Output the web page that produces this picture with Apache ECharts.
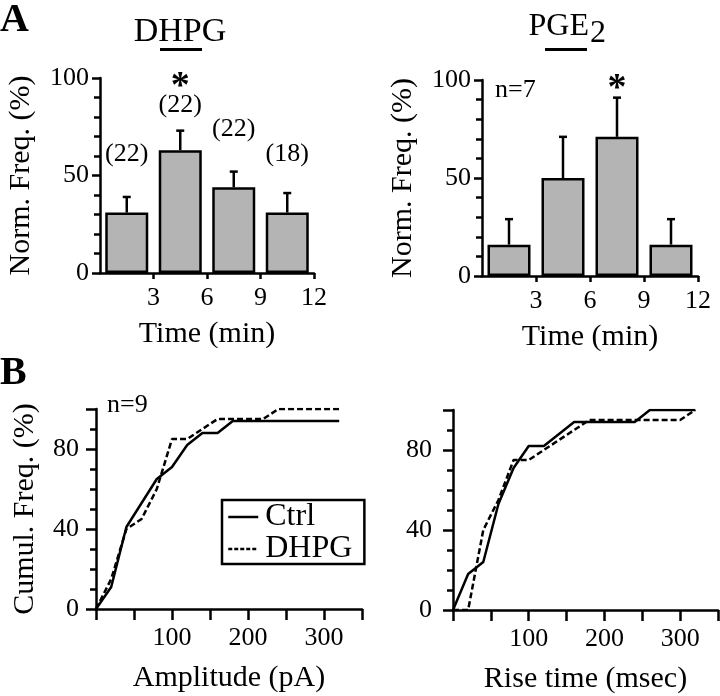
<!DOCTYPE html>
<html><head><meta charset="utf-8">
<script src="https://cdn.jsdelivr.net/npm/echarts@6/dist/echarts.min.js"></script>
<style>html,body{margin:0;padding:0;background:#fff}#c{width:720px;height:696px}</style>
</head><body><div id="c"></div>
<script>
// ---- Panel A data ----
const binCenters = [1.5, 4.5, 7.5, 10.5];      // centre of each 3-min bin
const timeTicks = [3, 6, 9, 12];
const dhpgFreq = [31, 63, 44, 31];            // Norm. Freq. (%)
const dhpgSem = [8, 10, 8, 10];
const dhpgCounts = ['(22)', '(22)', '(22)', '(18)'];
const dhpgCountLevel = [61, 86, 74, 61];      // level at which the (n) label sits
const dhpgStar = [4.5, 100];
const pgeFreq = [16, 50, 71, 16];
const pgeSem = [13, 21, 20, 13];
const pgeStar = [7.5, 100];

// ---- Panel B data ----
const bins = [0, 20, 40, 60, 80, 100, 120, 140, 160, 180, 200, 220, 240, 260, 280, 300, 320];
const ctrlAmp = [0, 11, 41, 53, 65, 71, 82, 88, 88, 94, 94, 94, 94, 94, 94, 94, 94];
const dhpgAmp = [0, 15, 40, 45, 60, 85, 85, 90, 95, 95, 95, 95, 100, 100, 100, 100, 100];
const ctrlRise = [0, 18, 24, 53, 71, 82, 82, 88, 94, 94, 94, 94, 94, 100, 100, 100, 100];
const dhpgRise = [0, 0, 40, 55, 75, 75, 80, 85, 90, 95, 95, 95, 95, 95, 95, 95, 100];
const bTickLabels = [100, 200, 300];
const bYLabels = [0, 40, 80];

const FONT = '"Liberation Serif", "Times New Roman", serif';
const LW = 2.5;
const BLACK = '#000';

const pairs = (xs, ys) => xs.map((x, i) => [x, ys[i]]);

function errRender(params, api) {
  const x = api.value(0), m = api.value(1), s = api.value(2);
  const p0 = api.coord([x, m]);
  const p1 = api.coord([x, m + s]);
  return {
    type: 'group',
    children: [
      {type: 'line', shape: {x1: p0[0], y1: p0[1], x2: p1[0], y2: p1[1]}, style: {stroke: BLACK, lineWidth: LW}},
      {type: 'line', shape: {x1: p1[0] - 4, y1: p1[1], x2: p1[0] + 4, y2: p1[1]}, style: {stroke: BLACK, lineWidth: LW}}
    ]
  };
}
function textRender(params, api) {
  const p = api.coord([api.value(0), api.value(1)]);
  const txt = api.value(2);
  const glyphShift = txt === '*' ? 9 : 0;   // asterisk glyph sits high in its em box
  return {
    type: 'text', x: p[0], y: p[1] + glyphShift,
    style: {text: txt, fill: BLACK, font: api.value(3), align: 'center', verticalAlign: 'middle'}
  };
}

function aY(gi, name) {
  return {
    gridIndex: gi, type: 'value', min: 0, max: 100, interval: 50,
    name: name, nameLocation: 'middle', nameRotate: 90, nameGap: 64,
    nameTextStyle: {fontFamily: FONT, fontSize: 30, color: BLACK},
    axisLine: {show: true, lineStyle: {color: BLACK, width: LW}},
    axisTick: {show: true, length: 8, lineStyle: {color: BLACK, width: LW}},
    minorTick: {show: true, splitNumber: 5, length: 6, lineStyle: {color: BLACK, width: LW}},
    axisLabel: {fontFamily: FONT, fontSize: 26, color: BLACK, margin: 11},
    splitLine: {show: false}
  };
}
function aX(gi) {
  return {
    gridIndex: gi, type: 'value', min: 0, max: 12, interval: 3,
    name: 'Time (min)', nameLocation: 'middle', nameGap: 46,
    nameTextStyle: {fontFamily: FONT, fontSize: 30, color: BLACK},
    axisLine: {show: true, lineStyle: {color: BLACK, width: LW}},
    axisTick: {show: true, length: 6, customValues: timeTicks, lineStyle: {color: BLACK, width: LW}},
    axisLabel: {fontFamily: FONT, fontSize: 26, color: BLACK, margin: 12, customValues: timeTicks},
    splitLine: {show: false}
  };
}
function bX(gi, name) {
  return {
    gridIndex: gi, type: 'value', min: 0, max: 350, interval: 50,
    name: name, nameLocation: 'middle', nameGap: 54,
    nameTextStyle: {fontFamily: FONT, fontSize: 30, color: BLACK},
    axisLine: {show: true, lineStyle: {color: BLACK, width: LW}},
    axisTick: {show: true, length: 11, lineStyle: {color: BLACK, width: LW}},
    axisLabel: {fontFamily: FONT, fontSize: 26, color: BLACK, margin: 16, customValues: bTickLabels},
    splitLine: {show: false}
  };
}
function bY(gi, name, margin) {
  return {
    gridIndex: gi, type: 'value', min: 0, max: 100, interval: 10,
    name: name, nameLocation: 'middle', nameRotate: 90, nameGap: 56,
    nameTextStyle: {fontFamily: FONT, fontSize: 30, color: BLACK},
    axisLine: {show: true, lineStyle: {color: BLACK, width: LW}},
    axisTick: {show: true, length: 6, lineStyle: {color: BLACK, width: LW}},
    axisLabel: {fontFamily: FONT, fontSize: 26, color: BLACK, margin: margin, customValues: bYLabels},
    splitLine: {show: false}
  };
}
function bYLong(gi) {
  return {
    gridIndex: gi, type: 'value', min: 0, max: 100, interval: 10, position: 'left',
    axisLine: {show: false},
    axisTick: {show: true, length: 10, customValues: [0, 40, 80, 100], lineStyle: {color: BLACK, width: LW}},
    axisLabel: {show: false},
    splitLine: {show: false}
  };
}

const barStyle = {color: '#b4b4b4', borderColor: BLACK, borderWidth: LW};
const chart = echarts.init(document.getElementById('c'), null, {renderer: 'canvas'});

const option = {
  animation: false,
  backgroundColor: '#fff',
  grid: [
    {left: 100, top: 78, width: 214, height: 195},
    {left: 482, top: 80, width: 216, height: 196},
    {left: 96, top: 409, width: 266, height: 200},
    {left: 453, top: 410, width: 265, height: 200}
  ],
  xAxis: [aX(0), aX(1), bX(2, 'Amplitude (pA)'), bX(3, 'Rise time (msec)')],
  yAxis: [aY(0, 'Norm. Freq. (%)'), aY(1, 'Norm. Freq. (%)'),
          bY(2, 'Cumul. Freq. (%)', 17), bY(3, '', 21), bYLong(2), bYLong(3)],
  legend: {
    data: [{name: 'Ctrl'}, {name: 'DHPG', lineStyle: {type: [4, 2], width: LW, color: BLACK}}],
    orient: 'vertical', left: 222, top: 500,
    borderColor: BLACK, borderWidth: LW, padding: [1, 12, -1, 5], itemGap: 0,
    itemWidth: 30, itemHeight: 14, selectedMode: false,
    itemStyle: {opacity: 0},
    lineStyle: {width: LW, color: BLACK},
    textStyle: {fontFamily: FONT, fontSize: 32, color: BLACK, padding: [0, 0, 0, 2]}
  },
  series: [
    {type: 'bar', name: 'dhpgBars', xAxisIndex: 0, yAxisIndex: 0, barWidth: 43,
     data: pairs(binCenters, dhpgFreq), itemStyle: barStyle, silent: true},
    {type: 'custom', xAxisIndex: 0, yAxisIndex: 0, renderItem: errRender,
     data: binCenters.map((x, i) => [x, dhpgFreq[i], dhpgSem[i]]), z: 3},
    {type: 'custom', xAxisIndex: 0, yAxisIndex: 0, renderItem: textRender, clip: false,
     data: binCenters.map((x, i) => [x, dhpgCountLevel[i], dhpgCounts[i], '26px ' + FONT])
       .concat([[dhpgStar[0], dhpgStar[1], '*', 'bold 38px ' + FONT]])},
    {type: 'bar', name: 'pgeBars', xAxisIndex: 1, yAxisIndex: 1, barWidth: 43,
     data: pairs(binCenters, pgeFreq), itemStyle: barStyle, silent: true},
    {type: 'custom', xAxisIndex: 1, yAxisIndex: 1, renderItem: errRender,
     data: binCenters.map((x, i) => [x, pgeFreq[i], pgeSem[i]]), z: 3},
    {type: 'custom', xAxisIndex: 1, yAxisIndex: 1, renderItem: textRender, clip: false,
     data: [[pgeStar[0], pgeStar[1], '*', 'bold 38px ' + FONT]]},
    {type: 'line', name: 'Ctrl', xAxisIndex: 2, yAxisIndex: 2, symbol: 'none',
     data: pairs(bins, ctrlAmp), lineStyle: {color: BLACK, width: LW}, itemStyle: {color: BLACK}},
    {type: 'line', name: 'DHPG', xAxisIndex: 2, yAxisIndex: 2, symbol: 'none',
     data: pairs(bins, dhpgAmp), lineStyle: {color: BLACK, width: LW, type: [6, 3]}, itemStyle: {color: BLACK}},
    {type: 'line', name: 'Ctrl', xAxisIndex: 3, yAxisIndex: 3, symbol: 'none',
     data: pairs(bins, ctrlRise), lineStyle: {color: BLACK, width: LW}, itemStyle: {color: BLACK}},
    {type: 'line', name: 'DHPG', xAxisIndex: 3, yAxisIndex: 3, symbol: 'none',
     data: pairs(bins, dhpgRise), lineStyle: {color: BLACK, width: LW, type: [6, 3]}, itemStyle: {color: BLACK}}
  ],
  graphic: [
    {type: 'text', left: 0, top: 1, style: {text: 'A', font: 'bold 40px ' + FONT, fill: BLACK}},
    {type: 'text', left: 0, top: 354, style: {text: 'B', font: 'bold 40px ' + FONT, fill: BLACK}},
    {type: 'text', x: 180, y: 32, style: {text: 'DHPG', font: '34px ' + FONT, fill: BLACK, align: 'center', verticalAlign: 'middle'}},
    {type: 'rect', shape: {x: 160, y: 48, width: 42, height: 3}, style: {fill: BLACK}},
    {type: 'text', x: 589, y: 27, style: {text: 'PGE', font: '32px ' + FONT, fill: BLACK, align: 'right', verticalAlign: 'middle'}},
    {type: 'text', x: 590, y: 34, style: {text: '2', font: '32px ' + FONT, fill: BLACK, align: 'left', verticalAlign: 'middle'}},
    {type: 'rect', shape: {x: 545, y: 48, width: 42, height: 3}, style: {fill: BLACK}},
    {type: 'text', x: 495, y: 90, style: {text: 'n=7', font: '26px ' + FONT, fill: BLACK, verticalAlign: 'middle'}},
    {type: 'text', x: 107, y: 405, style: {text: 'n=9', font: '26px ' + FONT, fill: BLACK, verticalAlign: 'middle'}}
  ]
};
chart.setOption(option);
</script></body></html>
